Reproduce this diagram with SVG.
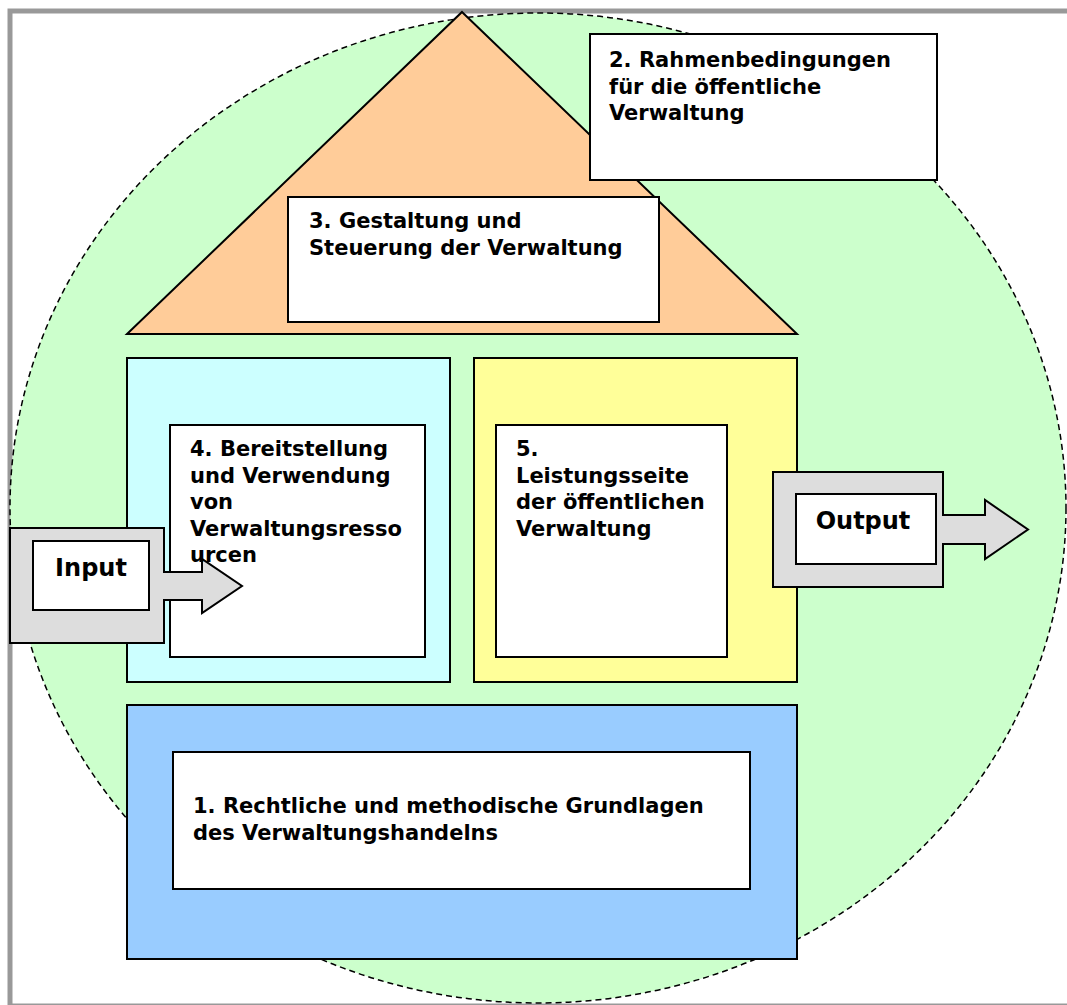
<svg xmlns="http://www.w3.org/2000/svg" width="1067" height="1005" viewBox="0 0 1067 1005">
<style>
  .box { stroke: #000; stroke-width: 2; }
  .white { fill: #FFFFFF; }
  .lbl { font-family: "DejaVu Sans", Verdana, sans-serif; font-weight: bold; font-size: 21px; fill: #000; }
  .io { font-family: "DejaVu Sans", Verdana, sans-serif; font-weight: bold; font-size: 24px; fill: #000; text-anchor: middle; }
  .arrow { fill: #DDDDDD; stroke: #000; stroke-width: 2; stroke-linejoin: miter; }
</style>
<rect x="0" y="0" width="1067" height="1005" fill="#FFFFFF"/>
<rect id="frame" x="10" y="11" width="1100" height="995" fill="none" stroke="#999999" stroke-width="5"/>
<ellipse id="environment" cx="538" cy="508" rx="528" ry="495" fill="#CCFFCC" stroke="#000" stroke-width="1.5" stroke-dasharray="6 4"/>

<g id="node-3-roof">
  <polygon class="box" points="462,12 797,334 127,334" fill="#FFCC99"/>
  <rect class="box white" x="288" y="197" width="371" height="125"/>
  <text class="lbl" x="309"><tspan x="309" y="228">3. Gestaltung und</tspan><tspan x="309" y="255">Steuerung der Verwaltung</tspan></text>
</g>

<g id="node-2">
  <rect class="box white" x="590" y="34" width="347" height="146"/>
  <text class="lbl"><tspan x="609" y="67">2. Rahmenbedingungen</tspan><tspan x="609" y="93.5">für die öffentliche</tspan><tspan x="609" y="120">Verwaltung</tspan></text>
</g>

<g id="node-4">
  <rect class="box" x="127" y="358" width="323" height="324" fill="#CCFFFF"/>
  <rect class="box white" x="170" y="425" width="255" height="232"/>
</g>

<g id="node-5">
  <rect class="box" x="474" y="358" width="323" height="324" fill="#FFFF99"/>
  <rect class="box white" x="496" y="425" width="231" height="232"/>
  <text class="lbl"><tspan x="516" y="456">5.</tspan><tspan x="516" y="482.5">Leistungsseite</tspan><tspan x="516" y="509">der öffentlichen</tspan><tspan x="516" y="535.5">Verwaltung</tspan></text>
</g>

<g id="node-1">
  <rect class="box" x="127" y="705" width="670" height="254" fill="#99CCFF"/>
  <rect class="box white" x="173" y="752" width="577" height="137"/>
  <text class="lbl"><tspan x="193" y="813">1. Rechtliche und methodische Grundlagen</tspan><tspan x="193" y="839.5">des Verwaltungshandelns</tspan></text>
</g>

<g id="input">
  <path class="arrow" d="M10,528 H164 V572 H202 V559 L242,586 L202,613 V600 H164 V643 H10 Z"/>
  <rect class="box white" x="33" y="541" width="116" height="69"/>
  <text class="io" x="91" y="576">Input</text>
</g>

<g id="node-4-label">
  <text class="lbl"><tspan x="190" y="456">4. Bereitstellung</tspan><tspan x="190" y="482.5">und Verwendung</tspan><tspan x="190" y="509">von</tspan><tspan x="190" y="535.5">Verwaltungsresso</tspan><tspan x="190" y="562">urcen</tspan></text>
</g>

<g id="output">
  <path class="arrow" d="M773,472 H943 V515 H985 V500 L1028,529.5 L985,559 V544 H943 V587 H773 Z"/>
  <rect class="box white" x="796" y="494" width="140" height="70"/>
  <text class="io" x="863" y="529">Output</text>
</g>

<g id="connectors"></g>
</svg>
